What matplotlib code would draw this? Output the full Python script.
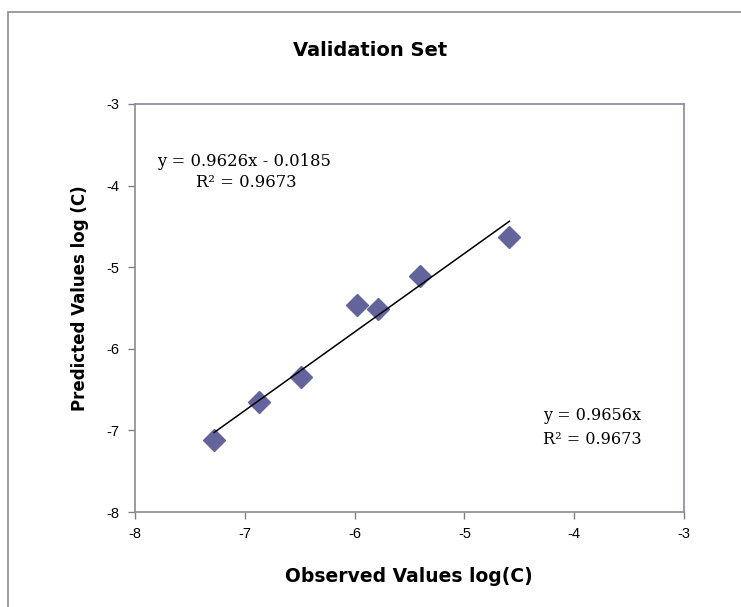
import numpy as np
import matplotlib
matplotlib.use("Agg")
import matplotlib.pyplot as plt
from matplotlib.patches import Rectangle

# ── Data ────────────────────────────────────────────────────────────────────
observed  = [-7.28, -6.87, -6.49, -5.98, -5.79, -5.40, -4.59]
predicted = [-7.12, -6.65, -6.35, -5.46, -5.51, -5.11, -4.63]
slope, intercept = 0.9626, -0.0185
eq_fit    = ["y = 0.9626x - 0.0185", "R² = 0.9673"]
eq_origin = ["y = 0.9656x", "R² = 0.9673"]
ticks = [-8, -7, -6, -5, -4, -3]

plt.rcParams["font.family"] = ["Liberation Sans", "DejaVu Sans"]
plt.rcParams["axes.unicode_minus"] = False

fig = plt.figure(figsize=(7.41, 6.07), dpi=100)
W, H = 741, 607

# outer chart frame (right/bottom edges cut off like the source)
fig.patches.append(Rectangle((8 / W, -0.1), 1.2, 1 - 12 / H + 0.1,
                             transform=fig.transFigure, fill=False,
                             edgecolor="#8c8c8c", lw=1.2))

ax = fig.add_axes([135 / W, 1 - 512 / H, (684 - 135) / W, (512 - 104) / H])

# ── Points + trend line ─────────────────────────────────────────────────────
ax.plot(observed, predicted, linestyle="none", marker="D", ms=11,
        color="#64649c", zorder=3)
xl = np.array([min(observed), max(observed)])
ax.plot(xl, slope * xl + intercept, color="black", lw=1.1, zorder=4)

ax.set_xlim(-8, -3)
ax.set_ylim(-8, -3)
ax.set_xticks(ticks)
ax.set_yticks(ticks)
ax.tick_params(direction="out", length=5, width=1, color="#808080",
               labelsize=10.5, pad=6)

for s in ["left", "bottom"]:
    ax.spines[s].set_color("#8c8c8c")
    ax.spines[s].set_linewidth(1.2)
for s in ["top", "right"]:
    ax.spines[s].set_color("#8888aa")
    ax.spines[s].set_linewidth(1.2)

sans = ["DejaVu Sans"]
fig.text(370 / W, 1 - 50 / H, "Validation Set", ha="center", va="center",
         fontsize=14, fontweight="bold", family=sans)
fig.text(409 / W, 1 - 577 / H, "Observed Values log(C)", ha="center",
         va="center", fontsize=13.5, fontweight="bold", family=sans)
fig.text(80 / W, 1 - 298 / H, "Predicted Values log (C)", ha="center",
         va="center", fontsize=12, fontweight="bold", rotation=90, family=sans)

# trend line labels (Excel-style)
serif = ["DejaVu Serif"]
fig.text(244 / W, 1 - 162 / H, eq_fit[0], ha="center", va="center",
         fontsize=11.8, family=serif)
fig.text(246 / W, 1 - 183 / H, eq_fit[1], ha="center", va="center",
         fontsize=11.8, family=serif)
fig.text(543 / W, 1 - 415 / H, eq_origin[0], ha="left", va="center",
         fontsize=11.5, family=serif)
fig.text(543 / W, 1 - 440 / H, eq_origin[1], ha="left", va="center",
         fontsize=11.5, family=serif)

fig.savefig("out.png", dpi=100)
